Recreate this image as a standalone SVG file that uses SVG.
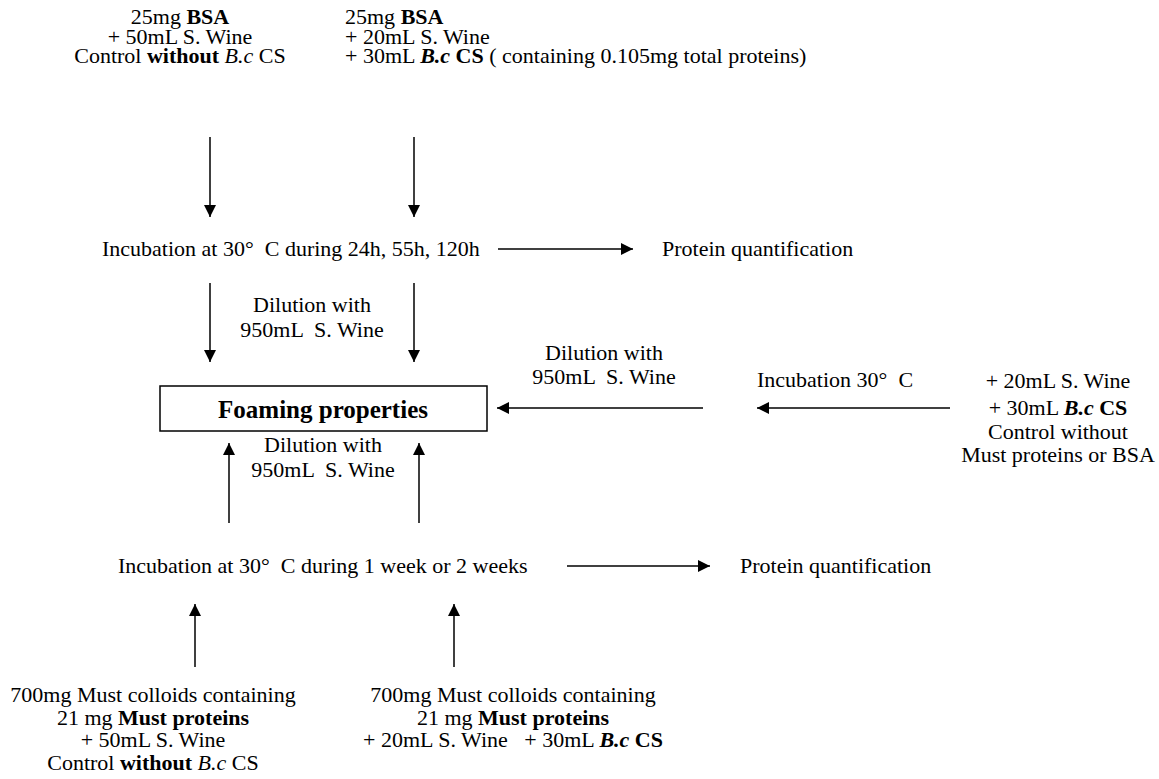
<svg xmlns="http://www.w3.org/2000/svg" width="1159" height="779" viewBox="0 0 1159 779">
<defs>
<style>
text{font-family:"Liberation Serif","Times New Roman",serif;font-size:22px;fill:#000;white-space:pre}
.m{text-anchor:middle}
.b{font-weight:bold}
.i{font-style:italic}
.bi{font-weight:bold;font-style:italic}
.title{font-size:25px;font-weight:bold}
.c{stroke:#000;stroke-width:1.5;fill:none;marker-end:url(#ah)}
</style>
<marker id="ah" markerUnits="userSpaceOnUse" markerWidth="12" markerHeight="12" viewBox="0 0 12 12" refX="12" refY="6" orient="auto">
<path d="M0,0 L12,6 L0,12 z" fill="#000"/>
</marker>
</defs>
<rect width="1159" height="779" fill="#fff"/>
<g id="bsa-control">
<text class="m" x="180" y="24">25mg <tspan class="b">BSA</tspan></text>
<text class="m" x="180" y="44">+ 50mL S. Wine</text>
<text class="m" x="180" y="63">Control <tspan class="b">without</tspan> <tspan class="i">B.c</tspan> CS</text>
</g>
<g id="bsa-bc">
<text x="345" y="24">25mg <tspan class="b">BSA</tspan></text>
<text x="345" y="44">+ 20mL S. Wine</text>
<text x="345" y="63">+ 30mL <tspan class="bi">B.c</tspan> <tspan class="b">CS</tspan> ( containing 0.105mg total proteins)</text>
</g>
<g id="incubation-bsa">
<text x="102" y="256">Incubation at 30°  C during 24h, 55h, 120h</text>
</g>
<g id="protein-quant-1">
<text x="662" y="256">Protein quantification</text>
</g>
<g id="dilution-1">
<text class="m" x="312" y="312">Dilution with</text>
<text class="m" x="312" y="337">950mL  S. Wine</text>
</g>
<g id="foaming">
<rect x="160" y="386" width="327" height="45" fill="none" stroke="#000" stroke-width="1.5"/>
<text class="m title" x="323" y="418">Foaming properties</text>
</g>
<g id="dilution-2">
<text class="m" x="604" y="360">Dilution with</text>
<text class="m" x="604" y="384">950mL  S. Wine</text>
</g>
<g id="incubation-control">
<text x="757" y="387">Incubation 30°  C</text>
</g>
<g id="control-no-protein">
<text class="m" x="1058" y="388">+ 20mL S. Wine</text>
<text class="m" x="1058" y="415">+ 30mL <tspan class="bi">B.c</tspan> <tspan class="b">CS</tspan></text>
<text class="m" x="1058" y="439">Control without</text>
<text class="m" x="1058" y="462">Must proteins or BSA</text>
</g>
<g id="dilution-3">
<text class="m" x="323" y="452">Dilution with</text>
<text class="m" x="323" y="477">950mL  S. Wine</text>
</g>
<g id="incubation-must">
<text x="118" y="573">Incubation at 30°  C during 1 week or 2 weeks</text>
</g>
<g id="protein-quant-2">
<text x="740" y="573">Protein quantification</text>
</g>
<g id="must-control">
<text class="m" x="153" y="702">700mg Must colloids containing</text>
<text class="m" x="153" y="725">21 mg <tspan class="b">Must proteins</tspan></text>
<text class="m" x="153" y="747">+ 50mL S. Wine</text>
<text class="m" x="153" y="770">Control <tspan class="b">without</tspan> <tspan class="i">B.c</tspan> CS</text>
</g>
<g id="must-bc">
<text class="m" x="513" y="702">700mg Must colloids containing</text>
<text class="m" x="513" y="725">21 mg <tspan class="b">Must proteins</tspan></text>
<text class="m" x="513" y="747">+ 20mL S. Wine   + 30mL <tspan class="bi">B.c</tspan> <tspan class="b">CS</tspan></text>
</g>
<g id="connectors">
<line class="c" x1="210" y1="137" x2="210" y2="217"/>
<line class="c" x1="414" y1="137" x2="414" y2="217"/>
<line class="c" x1="498" y1="249" x2="633" y2="249"/>
<line class="c" x1="210" y1="283" x2="210" y2="362"/>
<line class="c" x1="414" y1="283" x2="414" y2="362"/>
<line class="c" x1="703" y1="408" x2="497" y2="408"/>
<line class="c" x1="950" y1="408" x2="757" y2="408"/>
<line class="c" x1="229" y1="523" x2="229" y2="443"/>
<line class="c" x1="419" y1="523" x2="419" y2="443"/>
<line class="c" x1="567" y1="566" x2="710" y2="566"/>
<line class="c" x1="195" y1="667" x2="195" y2="604"/>
<line class="c" x1="454" y1="667" x2="454" y2="604"/>
</g>
</svg>
